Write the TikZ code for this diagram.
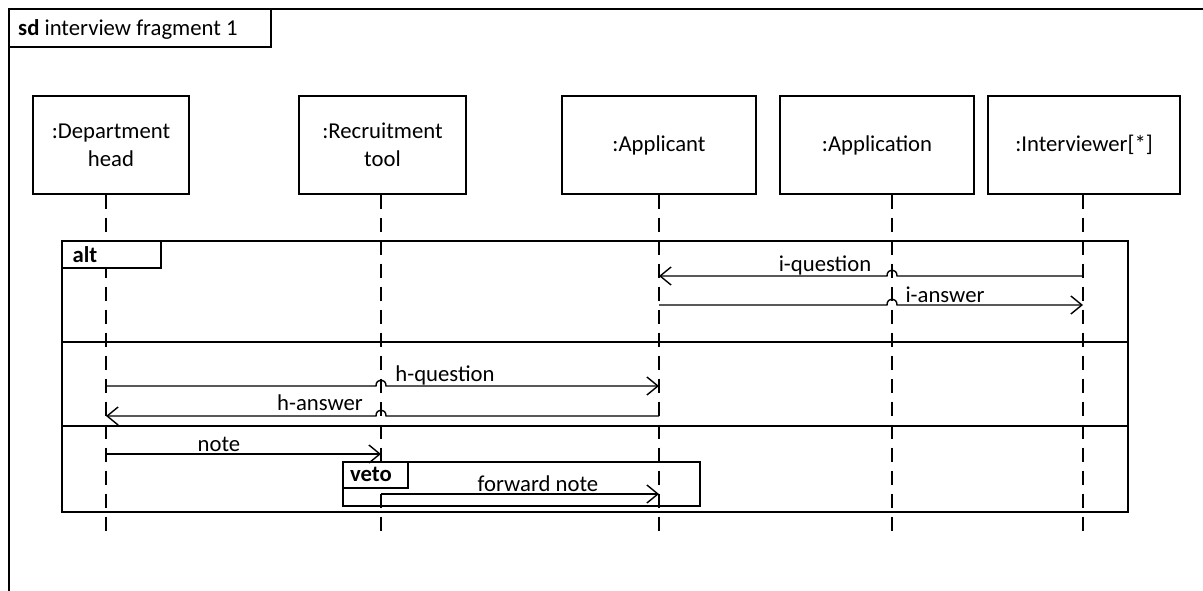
\documentclass[tikz,border=0pt]{standalone}
\usepackage{fontspec}
\setmainfont{Carlito}
\usetikzlibrary{arrows.meta,calc}
\begin{document}
\begin{tikzpicture}[x=1pt,y=-1pt,
  font=\fontsize{22.7}{28}\selectfont,
  obj/.style={draw, line width=1.4pt, minimum height=98pt, inner sep=0pt, align=center, fill=white},
  lifeline/.style={line width=1.6pt, dash pattern=on 14pt off 9pt},
  frameline/.style={line width=2pt},
  tabbox/.style={draw, line width=1.6pt, fill=white},
  msg/.style={line width=1.4pt, -{Straight Barb[length=11pt,width=18pt,line width=1.4pt]}},
  lbl/.style={inner sep=0pt}
]
\useasboundingbox (0,0) rectangle (1203,591);

% outer frame
\draw[frameline] (9,591) -- (9,9) -- (1203,9);
\draw[line width=1.6pt] (9,47) -- (271,47) -- (271,9);
\node[lbl, anchor=west] (title) at (18,29) {\textbf{sd} interview fragment 1};

% objects
\node[obj, minimum width=156pt] (dh) at (111,145) {:Department\\head};
\node[obj, minimum width=167pt] (rt) at (382.5,145) {:Recruitment\\tool};
\node[obj, minimum width=194pt] (ap) at (659,145) {:Applicant};
\node[obj, minimum width=194pt] (an) at (877,145) {:Application};
\node[obj, minimum width=192pt] (iv) at (1084,145) {:Interviewer[*]};

% lifeline ends
\coordinate (dhE) at (106,533);
\coordinate (rtE) at (381,533);
\coordinate (apE) at (659,533);
\coordinate (anE) at (892,533);
\coordinate (ivE) at (1083,533);
\foreach \o in {dh,rt,ap,an,iv}{
  \draw[lifeline] (\o.south -| \o E) -- (\o E);
}

% alt fragment
\draw[frameline] (62,241) rectangle (1128,512);
\draw[frameline] (62,342) -- (1128,342);
\draw[frameline] (62,426) -- (1128,426);
\draw[tabbox] (62,241) rectangle (161,268);
\node[lbl] (alt) at (85,255) {\textbf{alt}};

% veto fragment
\draw[line width=1.6pt] (343,462) rectangle (700,506);
\draw[tabbox] (343,462) rectangle (408,488);
\node[lbl] (veto) at (371,474) {\textbf{veto}};

% messages
\coordinate (iqS) at (ivE |- 0,276);
\coordinate (iqE) at (apE |- 0,276);
\coordinate (iqH) at (anE |- 0,276);
\draw[msg] (iqS) -- ([xshift=5pt]iqH) .. controls ([xshift=5pt,yshift=8pt]iqH) and ([xshift=-5pt,yshift=8pt]iqH) .. ([xshift=-5pt]iqH) -- (iqE);
\node[lbl] (lq) at (825,265) {i-question};

\coordinate (iaS) at (apE |- 0,305);
\coordinate (iaE) at (ivE |- 0,305);
\coordinate (iaH) at (anE |- 0,305);
\draw[msg] (iaS) -- ([xshift=-5pt]iaH) .. controls ([xshift=-5pt,yshift=8pt]iaH) and ([xshift=5pt,yshift=8pt]iaH) .. ([xshift=5pt]iaH) -- (iaE);
\node[lbl] (la) at (945,295) {i-answer};

\coordinate (hqS) at (dhE |- 0,386);
\coordinate (hqE) at (apE |- 0,386);
\coordinate (hqH) at (rtE |- 0,386);
\draw[msg] (hqS) -- ([xshift=-5pt]hqH) .. controls ([xshift=-5pt,yshift=8pt]hqH) and ([xshift=5pt,yshift=8pt]hqH) .. ([xshift=5pt]hqH) -- (hqE);
\node[lbl] (lhq) at (445,375) {h-question};

\coordinate (haS) at (apE |- 0,416);
\coordinate (haE) at (dhE |- 0,416);
\coordinate (haH) at (rtE |- 0,416);
\draw[msg] (haS) -- ([xshift=5pt]haH) .. controls ([xshift=5pt,yshift=8pt]haH) and ([xshift=-5pt,yshift=8pt]haH) .. ([xshift=-5pt]haH) -- (haE);
\node[lbl] (lha) at (320,403) {h-answer};

\coordinate (nS) at (dhE |- 0,454);
\coordinate (nE) at (rtE |- 0,454);
\draw[msg] (nS) -- (nE);
\node[lbl] (ln) at (219,444) {note};

\coordinate (fS) at (rtE |- 0,494);
\coordinate (fE) at (apE |- 0,494);
\draw[msg] (fS) -- (fE);
\node[lbl] (lf) at (538,484) {forward note};
\end{tikzpicture}
\end{document}
